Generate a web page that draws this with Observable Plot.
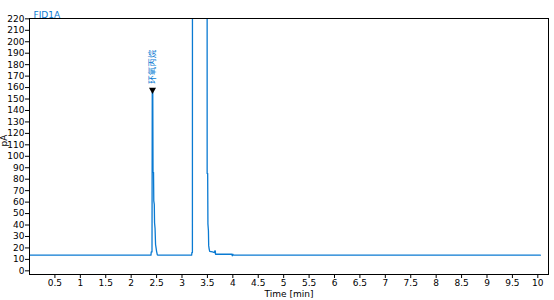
<!DOCTYPE html>
<html><head><meta charset="utf-8">
<script src="https://cdn.jsdelivr.net/npm/d3@7"></script>
<script src="https://cdn.jsdelivr.net/npm/@observablehq/plot@0.6"></script>
<style>body{margin:0;background:#fff} svg{display:block}</style>
</head><body><div id="chart"></div>
<script>
// Chromatogram trace (time in min, signal in pA); off-scale points exceed 220
const time = [0, 2.39, 2.395, 2.41, 2.415, 2.425, 2.43, 2.44, 2.445, 2.455, 2.46, 2.47, 2.48, 2.49, 2.50, 2.515, 2.525,
  3.19, 3.195, 3.205, 3.21, 3.49, 3.495, 3.505, 3.51, 3.52, 3.525, 3.535, 3.545, 3.60, 3.64, 3.645, 3.655, 3.66, 3.98, 3.99, 4.0, 4.01, 10.05];
const signal = [13.7, 13.7, 16.5, 16.5, 156, 156, 86, 86, 61, 58, 42, 37, 23, 20, 17, 14, 13.7,
  13.7, 16, 16, 1500, 1500, 85, 85, 41, 35, 22, 19, 17, 16.5, 16, 17.5, 17.5, 14.5, 14.5, 13.2, 14.5, 13.7, 13.7];
const peakTime = [2.42];
const peakValue = [158];
const peakName = ["环氧丙烷"];
const xTicks = [0.5, 1, 1.5, 2, 2.5, 3, 3.5, 4, 4.5, 5, 5.5, 6, 6.5, 7, 7.5, 8, 8.5, 9, 9.5, 10];
const yTicks = [0, 10, 20, 30, 40, 50, 60, 70, 80, 90, 100, 110, 120, 130, 140, 150, 160, 170, 180, 190, 200, 210, 220];
const title = "FID1A";
const xLabel = "Time [min]";
const yLabel = "pA";

const blue = "#0a7ad2";
const trace = time.map((t, i) => ({t, v: signal[i]}));
const peaks = peakTime.map((t, i) => ({t, v: peakValue[i], name: peakName[i]}));

const chart = Plot.plot({
  width: 554, height: 300,
  marginLeft: 29, marginRight: 6, marginTop: 18, marginBottom: 26,
  style: {fontFamily: "'DejaVu Sans', sans-serif", fontSize: "9px", color: "#000", background: "#fff"},
  x: {domain: [0, 10.21]},
  y: {domain: [-3.2, 220.3]},
  marks: [
    Plot.line(trace, {x: "t", y: "v", stroke: blue, strokeWidth: 1.3, clip: true, curve: "linear"}),
    Plot.dot(peaks, {x: "t", y: "v", symbol: "triangle", r: 2.6, fill: "#000", stroke: "none", rotate: 180}),
    Plot.text(peaks, {x: "t", y: "v", text: "name", rotate: -90, textAnchor: "start", dy: -6, fill: blue,
      fontFamily: "'Noto Sans CJK SC', sans-serif", fontSize: 8.5}),
    Plot.frame({stroke: "#000", strokeWidth: 1}),
    Plot.axisY({ticks: yTicks, tickSize: 4, tickPadding: 1, label: null}),
    Plot.axisX({ticks: xTicks, tickSize: 4, tickPadding: 1, label: null, tickFormat: d => String(d)}),
    Plot.text([yLabel], {frameAnchor: "left", dx: -25, rotate: -90, fontSize: 9}),
    Plot.text([xLabel], {frameAnchor: "bottom", dy: 16, lineAnchor: "top", fontSize: 9}),
    Plot.text([title], {frameAnchor: "top-left", dx: 4, dy: -7, textAnchor: "start", fill: blue, fontSize: 9})
  ]
});
document.getElementById("chart").appendChild(chart);
</script>
</body></html>
